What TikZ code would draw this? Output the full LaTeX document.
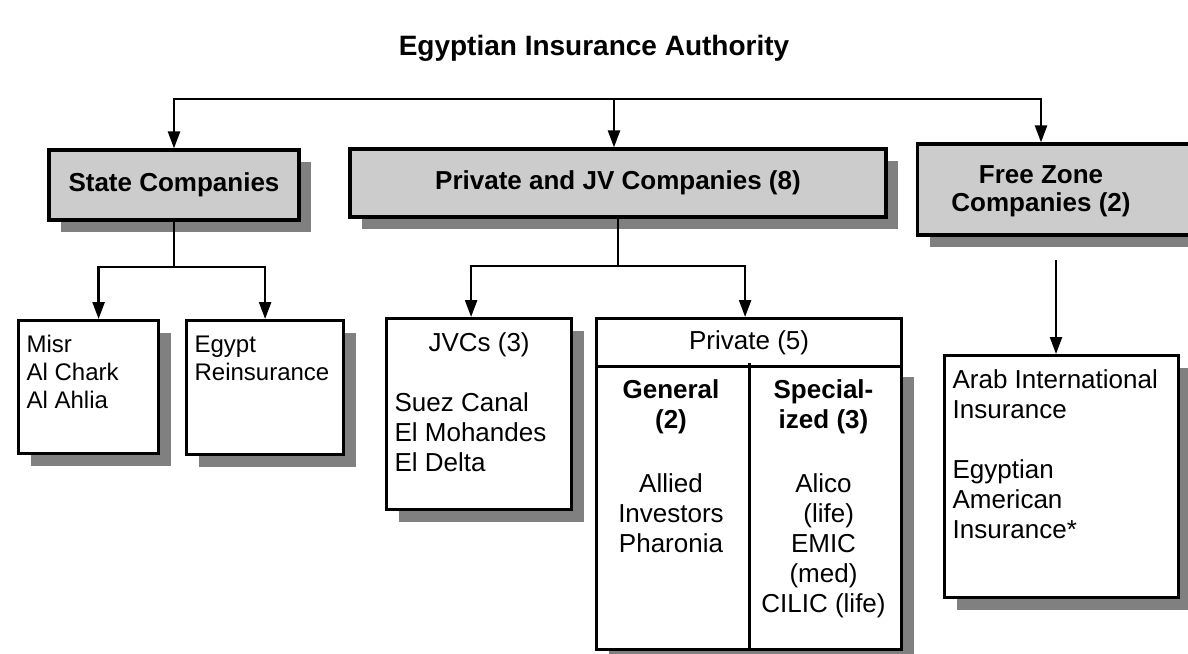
\documentclass[tikz,border=0pt]{standalone}
\usepackage{fontspec}
\setmainfont{Liberation Sans}
\usepackage{tikz}
\usetikzlibrary{arrows.meta}
\usetikzlibrary{shadows}
\definecolor{boxgray}{HTML}{CCCCCC}
\definecolor{shadowgray}{HTML}{808080}
\newcommand{\boxtext}[3]{\begin{minipage}[c][#2][t]{#1}\raggedright\strut#3\end{minipage}}
\tikzstyle{shadowed} = [drop shadow={shadow xshift=6pt, shadow yshift=-6pt, fill=shadowgray, opacity=1}]
\tikzstyle{header} = [draw, line width=1.6pt, fill=boxgray, inner sep=0pt, align=center, font=\bfseries\fontsize{13}{14}\selectfont, shadowed]
\tikzstyle{headtext} = [align=center, inner sep=0pt, font=\bfseries\fontsize{13}{14}\selectfont]
\tikzstyle{item} = [draw, line width=1.6pt, fill=white, inner xsep=4pt, inner ysep=6pt, anchor=north west, font=\fontsize{13}{15}\selectfont]
\tikzstyle{coltext} = [align=center, inner sep=0pt, anchor=north, font=\fontsize{13}{15}\selectfont]
\tikzstyle{conn} = [line width=1.2pt]
\tikzstyle{arr} = [line width=1.2pt, -{Triangle[length=8.5pt, width=6pt]}]

\begin{document}
\begin{tikzpicture}[x=0.5pt, y=-0.5pt]
				%\draw[help lines,step=50] (0,0) grid (1188,653);
				\useasboundingbox (0,0) rectangle (1188,653);
				\clip (0,0) rectangle (1188,653);
				
				\node [font=\bfseries\fontsize{14}{17}\selectfont] (title) at (594,48) {Egyptian Insurance Authority};
				
				\node [header, minimum width=125pt, minimum height=35pt] (state) at (174,185) {State Companies};
				\node [header, minimum width=268pt, minimum height=34pt] (pjv) at (618,183) {Private and JV Companies (8)};
				\node [header, minimum width=142pt, minimum height=45.5pt, anchor=west] (fzbox) at (916,189.5) {};
				\node [headtext] (fz) at (1041,191) {Free Zone\\Companies (2)};
				
				\node [item, shadowed, font=\fontsize{12}{14}\selectfont] (misr) at (17,319) {\boxtext{62pt}{54.5pt}{Misr\\Al Chark\\Al Ahlia}};
				\node [item, shadowed, font=\fontsize{12}{14}\selectfont] (egypt) at (185,319) {\boxtext{70.5pt}{55pt}{Egypt\\Reinsurance}};
				\node [item, shadowed] (jvc) at (385,317) {\boxtext{84.5pt}{83.5pt}{{\centering JVCs (3)\par}\vspace{15pt}Suez Canal\\El Mohandes\\El Delta}};
				\node [item, shadowed, minimum width=152.5pt, minimum height=142.5pt] (privbody) at (595,363) {};
				\node [item, minimum width=152.5pt, minimum height=23pt] (priv) at (595,317) {Private (5)};
				\draw [line width=1.6pt] (privbody.north) -- (privbody.south);
				\node [coltext] (gen) at (671,379) {\textbf{General}\\\textbf{(2)}\\[17pt]Allied\\Investors\\Pharonia};
				\node [coltext] (spec) at (823.5,379) {\textbf{Special-}\\\textbf{ized (3)}\\[17pt]Alico\\\hspace*{0.4em}(life)\\EMIC\\(med)\\CILIC (life)};
				\node [item, shadowed] (arab) at (943,354) {\boxtext{109pt}{109pt}{Arab International\\Insurance\\[15pt]Egyptian\\American\\Insurance*}};
				
				\coordinate (top) at (614,99);
				\draw [arr] (top) -| (state.north);
				\draw [arr] (top) -- (top |- pjv.north);
				\draw [arr] (top) -| (fz |- fzbox.north);
				
				\coordinate (sj) at (174,267);
				\draw [conn] (state.south) -- (sj);
				\draw [arr] (sj) -| ([xshift=5pt]misr.north);
				\draw [arr] (sj) -| (egypt.north);
				
				\coordinate (pj) at (618,266);
				\draw [conn] (pjv.south) -- (pj);
				\draw [arr] (pj) -| ([xshift=-4pt]jvc.north);
				\draw [arr] (pj) -| ([xshift=-2pt]priv.north);
				
				\coordinate (fzout) at (1056,260);
				\draw [arr] (fzout) -- (fzout |- arab.north);
			\end{tikzpicture}
\end{document}
